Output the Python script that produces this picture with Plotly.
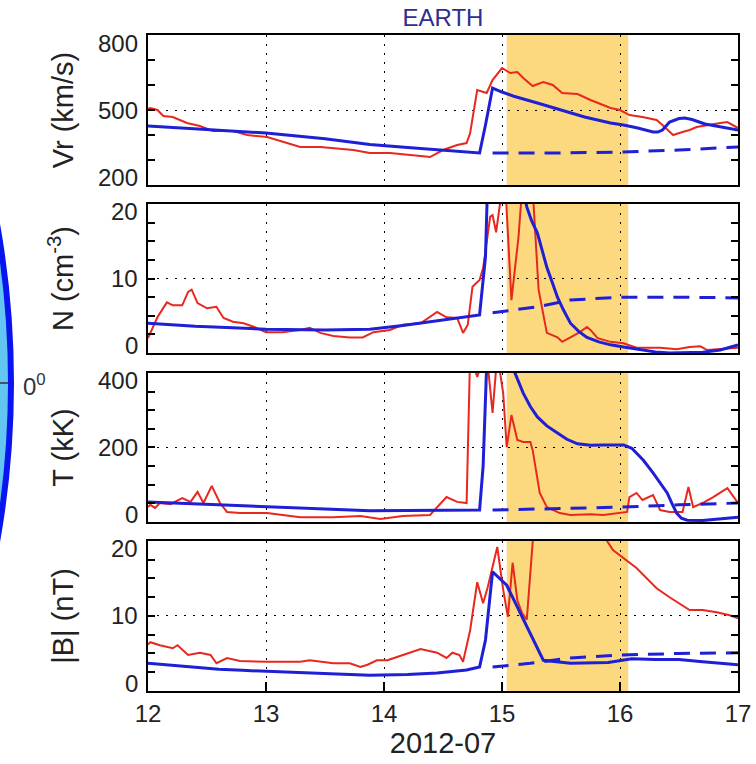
import plotly.graph_objects as go

# ---------------- data ----------------
# Vr (km/s)
vr_obs_x = [12.0, 12.02, 12.08, 12.13, 12.21, 12.33, 12.44, 12.55, 12.72, 12.84, 13.01, 13.14, 13.29,
            13.46, 13.57, 13.74, 13.88, 14.05, 14.31, 14.39, 14.5, 14.62, 14.7, 14.73, 14.79, 14.87,
            14.92, 15.0, 15.07, 15.13, 15.18, 15.26, 15.35, 15.43, 15.51, 15.64, 15.75, 15.92, 16.0,
            16.08, 16.19, 16.31, 16.36, 16.45, 16.53, 16.59, 16.65, 16.74, 16.85, 16.91, 17.0]
vr_obs_y = [505, 508, 500, 476, 472, 448, 436, 416, 416, 400, 392, 372, 352,
            352, 348, 340, 328, 328, 316, 312, 340, 360, 368, 408, 580, 568,
            620, 668, 648, 652, 628, 596, 612, 600, 568, 564, 540, 508, 500,
            480, 472, 460, 440, 400, 412, 420, 432, 440, 448, 452, 428]
vr_mod_x = [12.0, 12.5, 13.0, 13.5, 13.88, 14.2, 14.5, 14.81, 14.86, 14.92, 15.0, 15.1, 15.3, 15.5,
            15.7, 15.92, 16.03, 16.15, 16.28, 16.32, 16.36, 16.42, 16.5, 16.55, 16.61, 16.72, 16.85, 17.0]
vr_mod_y = [436, 422, 408, 385, 362, 350, 340, 328, 440, 588, 572, 555, 528, 500,
            472, 448, 440, 428, 412, 412, 420, 452, 466, 468, 462, 444, 432, 420]
vr_amb_x = [14.92, 15.5, 16.0, 16.5, 17.0]
vr_amb_y = [328, 328, 332, 340, 352]

# N (cm^-3)
n_obs_x = [12.0, 12.02, 12.08, 12.16, 12.21, 12.29, 12.34, 12.37, 12.42, 12.5, 12.58, 12.64, 12.72,
           12.81, 12.9, 13.0, 13.14, 13.29, 13.37, 13.46, 13.57, 13.71, 13.82, 13.91, 14.05, 14.16,
           14.31, 14.45, 14.53, 14.62, 14.67, 14.71, 14.75, 14.81, 14.84, 14.9, 14.92, 14.95, 15.0,
           15.03, 15.08, 15.14, 15.17, 15.22, 15.26, 15.31, 15.38, 15.47, 15.51, 15.58, 15.66, 15.72,
           15.75, 15.81, 15.92, 16.03, 16.14, 16.34, 16.48, 16.59, 16.68, 16.74, 16.87, 17.0]
n_obs_y = [2.0, 2.7, 4.8, 6.8, 6.4, 6.4, 8.2, 8.5, 6.7, 6.0, 6.2, 4.7, 4.2,
           4.0, 3.5, 2.8, 2.8, 3.1, 3.4, 2.7, 2.3, 2.1, 2.1, 2.8, 3.1, 3.8,
           4.0, 5.5, 4.8, 4.7, 2.7, 3.8, 8.9, 9.8, 11.4, 18.3, 18.5, 16.2, 22,
           22, 7.1, 15.6, 22, 25, 22, 8.5, 2.7, 2.1, 1.5, 2.1, 2.8, 3.5,
           3.1, 2.0, 1.5, 1.3, 0.7, 0.7, 0.5, 0.8, 0.9, 0.4, 0.5, 0.7]
n_mod_x = [12.0, 12.4, 12.72, 13.0, 13.5, 13.88, 14.16, 14.45, 14.7, 14.81, 14.86, 14.88, 15.0, 15.1,
           15.21, 15.25, 15.3, 15.35, 15.38, 15.43, 15.47, 15.52, 15.58, 15.65, 15.72, 15.82, 15.92,
           16.03, 16.14, 16.3, 16.42, 16.55, 16.7, 16.85, 17.0]
n_mod_y = [4.0, 3.6, 3.4, 3.2, 3.1, 3.2, 3.7, 4.3, 4.8, 5.1, 12.9, 24, 35, 28,
           19.6, 17.8, 16.1, 13.0, 11.5, 9.3, 7.5, 5.8, 4.0, 2.9, 2.1, 1.5, 1.1,
           0.8, 0.5, 0.15, 0.0, 0.0, 0.1, 0.4, 1.1]
n_amb_x = [14.92, 15.3, 15.58, 16.0, 16.5, 17.0]
n_amb_y = [5.4, 6.2, 7.1, 7.5, 7.5, 7.4]

# T (kK)
t_obs_x = [12.0, 12.02, 12.06, 12.1, 12.19, 12.29, 12.36, 12.42, 12.47, 12.54, 12.61, 12.67, 12.78,
           12.89, 13.01, 13.14, 13.29, 13.57, 13.8, 13.97, 14.16, 14.39, 14.53, 14.62, 14.7, 14.73,
           14.79, 14.85, 14.88, 14.92, 14.96, 15.01, 15.04, 15.08, 15.13, 15.18, 15.24, 15.26, 15.32,
           15.38, 15.49, 15.58, 15.75, 15.86, 15.97, 16.06, 16.08, 16.14, 16.19, 16.28, 16.34, 16.42,
           16.53, 16.58, 16.62, 16.7, 16.79, 16.91, 17.0]
t_obs_y = [40, 46, 38, 51, 48, 64, 54, 81, 51, 97, 51, 27, 24,
           24, 24, 19, 13, 13, 16, 8, 16, 19, 67, 54, 51, 450,
           389, 450, 420, 293, 450, 346, 201, 287, 220, 215, 215, 193, 78,
           40, 24, 19, 21, 19, 24, 27, 67, 78, 59, 72, 32, 27,
           27, 94, 40, 51, 67, 91, 51]
t_mod_x = [12.0, 12.5, 13.0, 13.5, 13.88, 14.5, 14.81, 14.84, 14.87, 15.0, 15.11, 15.18, 15.24, 15.3,
           15.38, 15.47, 15.55, 15.64, 15.75, 15.86, 15.95, 16.03, 16.1, 16.14, 16.2, 16.28, 16.34,
           16.4, 16.44, 16.48, 16.52, 16.57, 16.7, 17.0]
t_mod_y = [54, 47, 40, 35, 30, 32, 32, 150, 420, 600, 400, 346, 310, 282,
           258, 239, 222, 210, 206, 207, 208, 207, 198, 185, 165, 132, 105,
           78, 50, 24, 10, 5, 4, 13]
t_amb_x = [14.92, 15.5, 16.0, 16.5, 17.0]
t_amb_y = [32, 36, 40, 46, 51]

# |B| (nT)
b_obs_x = [12.0, 12.02, 12.1, 12.21, 12.25, 12.34, 12.44, 12.53, 12.58, 12.67, 12.78, 13.01, 13.29,
           13.37, 13.57, 13.71, 13.8, 13.86, 13.94, 14.03, 14.16, 14.31, 14.45, 14.53, 14.58, 14.64,
           14.67, 14.73, 14.79, 14.84, 14.88, 14.96, 15.01, 15.05, 15.09, 15.13, 15.17, 15.21, 15.28,
           15.5, 15.75, 15.87, 15.94, 16.03, 16.14, 16.31, 16.42, 16.59, 16.7, 16.82, 16.93, 17.0]
b_obs_y = [6.2, 6.5, 6.1, 5.7, 6.1, 4.8, 5.1, 4.8, 3.7, 4.4, 4.0, 3.9, 3.9,
           4.1, 3.7, 3.7, 3.2, 3.5, 4.1, 4.1, 4.8, 5.6, 5.1, 4.4, 5.1, 4.8,
           3.9, 8.1, 14.5, 11.7, 13.9, 19.2, 13.5, 9.9, 17.1, 12.1, 10.4, 9.5, 24,
           27, 24, 20.5, 18.8, 17.7, 16.4, 13.7, 12.5, 10.8, 10.8, 10.5, 10.1, 9.7]
b_mod_x = [12.0, 12.2, 12.4, 12.6, 12.8, 13.0, 13.3, 13.6, 13.88, 14.2, 14.45, 14.7, 14.81, 14.86,
           14.92, 15.04, 15.35, 15.58, 15.9, 16.0, 16.1, 16.3, 16.5, 16.7, 17.0]
b_mod_y = [3.7, 3.4, 3.1, 2.9, 2.75, 2.6, 2.4, 2.25, 2.1, 2.2, 2.4, 2.8, 3.2, 6.8,
           15.9, 14.1, 4.1, 3.7, 3.8, 4.0, 4.3, 4.2, 4.2, 3.9, 3.5]
b_amb_x = [14.92, 15.24, 15.58, 16.0, 16.5, 17.0]
b_amb_y = [3.2, 3.7, 4.4, 4.8, 5.0, 5.1]

day_ticks = [12, 13, 14, 15, 16, 17]
shade_start, shade_end = 15.04, 16.07

panels = [
    dict(title="Vr (km/s)", obs=(vr_obs_x, vr_obs_y), mod=(vr_mod_x, vr_mod_y), amb=(vr_amb_x, vr_amb_y),
         rng=[200, 800], major=[200, 500, 800], minor=[300, 400, 600, 700]),
    dict(title="N (cm<sup>-3</sup>)", obs=(n_obs_x, n_obs_y), mod=(n_mod_x, n_mod_y), amb=(n_amb_x, n_amb_y),
         rng=[0, 20], major=[0, 10, 20], minor=[2.5, 5, 7.5, 12.5, 15, 17.5]),
    dict(title="T (kK)", obs=(t_obs_x, t_obs_y), mod=(t_mod_x, t_mod_y), amb=(t_amb_x, t_amb_y),
         rng=[0, 400], major=[0, 200, 400], minor=[50, 100, 150, 250, 300, 350]),
    dict(title="|B| (nT)", obs=(b_obs_x, b_obs_y), mod=(b_mod_x, b_mod_y), amb=(b_amb_x, b_amb_y),
         rng=[0, 20], major=[0, 10, 20], minor=[2.5, 5, 7.5, 12.5, 15, 17.5]),
]

# ---------------- styling ----------------
W, H = 756, 764
ML, MR, MT, MB = 148, 18, 35, 73
RED = "#e8281e"
BLUE = "#1f1fd6"
SHADE = "#fcd97f"
FONT = "Liberation Sans"
TXT = "#222222"
domains = [[0.7713, 1.0], [0.5152, 0.7424], [0.2576, 0.4848], [0.0, 0.2287]]

fig = go.Figure()
layout = dict(
    width=W, height=H,
    margin=dict(l=ML, r=MR, t=MT, b=MB, autoexpand=False),
    paper_bgcolor="white", plot_bgcolor="white",
    showlegend=False,
    font=dict(family=FONT, size=24, color=TXT),
    title=dict(text="EARTH", x=0.5, xref="paper", xanchor="center",
               y=1 - 18 / H, yref="container", yanchor="middle",
               font=dict(family=FONT, size=24, color="#2e2e8f")),
)

shapes = []
annotations = []
for i, p in enumerate(panels):
    k = "" if i == 0 else str(i + 1)
    xa, ya = "x" + k, "y" + k
    last = i == len(panels) - 1
    fig.add_trace(go.Scatter(x=p["obs"][0], y=p["obs"][1], mode="lines",
                             line=dict(color=RED, width=2), xaxis=xa, yaxis=ya))
    fig.add_trace(go.Scatter(x=p["mod"][0], y=p["mod"][1], mode="lines",
                             line=dict(color=BLUE, width=3), xaxis=xa, yaxis=ya))
    fig.add_trace(go.Scatter(x=p["amb"][0], y=p["amb"][1], mode="lines",
                             line=dict(color=BLUE, width=3, dash="16px,10px"), xaxis=xa, yaxis=ya))
    xdef = dict(
        domain=[0, 1], anchor=ya, range=[12, 17], tickvals=day_ticks,
        showgrid=True, gridcolor="black", gridwidth=1, griddash="2px,7px",
        showline=True, linecolor="black", linewidth=1.5, mirror=True,
        zeroline=False, automargin=False,
        ticks="inside" if last else "", ticklen=9, tickcolor="black", tickwidth=1.5,
        showticklabels=last, tickfont=dict(size=24),
    )
    if last:
        xdef["title"] = dict(text="2012-07", standoff=6)
    else:
        xdef["matches"] = "x4"
    layout["xaxis" + k] = xdef
    layout["yaxis" + k] = dict(
        domain=domains[i], anchor=xa, range=p["rng"], tickvals=p["major"],
        showgrid=True, gridcolor="black", gridwidth=1, griddash="2px,7px",
        showline=True, linecolor="black", linewidth=1.5, mirror="ticks",
        zeroline=False, automargin=False,
        ticks="inside", ticklen=7, tickcolor="black", tickwidth=1.5,
        minor=dict(tickvals=p["minor"], ticks="inside", ticklen=7, tickcolor="black",
                   tickwidth=1.5, showgrid=False),
        showticklabels=False,
        title=dict(text=p["title"], standoff=64),
    )
    # tick labels (end labels nudged inside the frame, as in the reference)
    lo, hi = p["rng"]
    for v in p["major"]:
        shift = 8 if v == lo else (-8 if v == hi else 0)
        annotations.append(dict(text=str(v), xref=xa + " domain", yref=ya, x=0, y=v,
                                xanchor="right", yanchor="middle", xshift=-8, yshift=shift,
                                showarrow=False, font=dict(family=FONT, size=24, color=TXT)))
    shapes.append(dict(type="rect", xref=xa, yref=ya + " domain", x0=shade_start, x1=shade_end,
                       y0=0, y1=1, fillcolor=SHADE, line=dict(width=0), layer="below"))

# partial globe from neighbouring panel (decorative, paper coordinates)
def px_x(px):
    return (px - ML) / (W - ML - MR)

def px_y(py):
    return (H - MB - py) / (H - MT - MB)

R = 900
cx, cy = 11 - R, 383
shapes.append(dict(type="circle", xref="paper", yref="paper",
                   x0=px_x(cx - R), x1=px_x(cx + R), y0=px_y(cy + R), y1=px_y(cy - R),
                   fillcolor="#63c6f2", line=dict(color="#0a14ee", width=6), layer="above"))
shapes.append(dict(type="line", xref="paper", yref="paper",
                   x0=px_x(-5), x1=px_x(8), y0=px_y(cy), y1=px_y(cy),
                   line=dict(color="#333333", width=1.5)))
annotations.append(dict(text="0<sup>0</sup>", xref="paper", yref="paper",
                        x=px_x(21), y=px_y(cy + 2), xanchor="left", yanchor="middle",
                        showarrow=False, font=dict(family=FONT, size=24, color="#333333")))
layout["shapes"] = shapes
layout["annotations"] = annotations

fig.update_layout(**layout)
fig.write_html("out.html")
